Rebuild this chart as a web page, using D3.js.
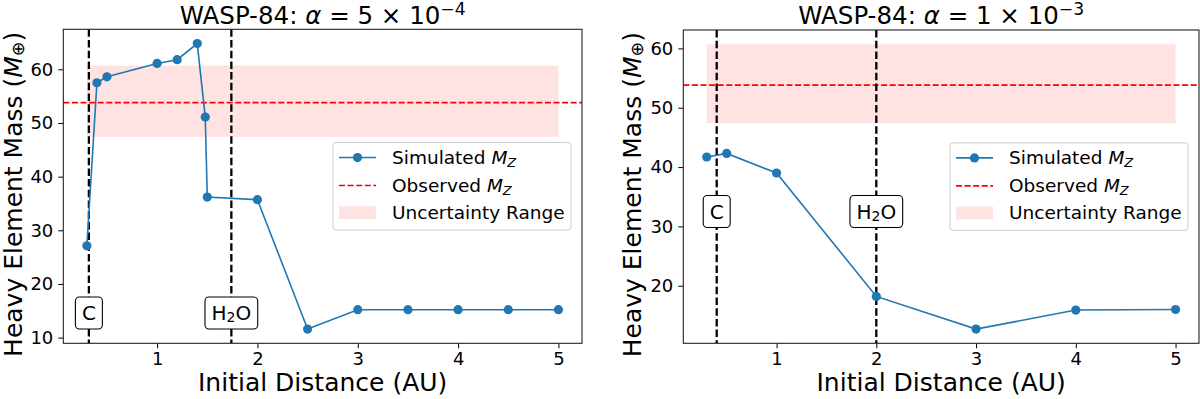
<!DOCTYPE html>
<html>
<head>
<meta charset="utf-8">
<script src="https://cdn.jsdelivr.net/npm/d3@7"></script>
<style>
  body { margin: 0; background: #fff; }
  svg { display: block; }
  text { font-family: "DejaVu Sans", sans-serif; fill: #000; }
</style>
</head>
<body>
<svg id="chart"></svg>
<script>
// data
var xTicks = [1, 2, 3, 4, 5];
var yTicksLeft = [10, 20, 30, 40, 50, 60];
var yTicksRight = [20, 30, 40, 50, 60];

var distLeft = [0.3, 0.4, 0.5, 1.0, 1.2, 1.4, 1.48, 1.5, 2.0, 2.5, 3.0, 3.5, 4.0, 4.5, 5.0];
var massLeft = [27.1, 57.5, 58.6, 61.1, 61.8, 64.8, 51.1, 36.2, 35.7, 11.6, 15.2, 15.2, 15.2, 15.2, 15.2];

var distRight = [0.3, 0.5, 1.0, 2.0, 3.0, 4.0, 5.0];
var massRight = [41.7, 42.3, 39.0, 18.2, 12.7, 15.9, 16.0];

var observedMz = 53.8;
var uncertainty = [47.4, 60.7];
var uncertaintyX = [0.3, 5.0];

var snowLeft = [0.32, 1.74];   // C, H2O
var snowRight = [0.40, 2.0];
var snowNames = ["C", "H2O"];

var W = 1200, H = 399;
var blue = "#1f77b4";

var svg = d3.select("#chart")
            .attr("width", W)
            .attr("height", H);

// text with italic / sub / superscript parts
function rich(sel, parts, fs, subShift, supShift) {
  var cur = 0;
  subShift = subShift || 0.15;
  supShift = supShift || 0.38;
  parts.forEach(function(p) {
    var ts = sel.append("tspan").text(p.t);
    var target = p.sub ? fs * subShift : (p.sup ? -fs * supShift : 0);
    if (p.it) ts.attr("font-style", "italic");
    if (p.sub || p.sup) ts.attr("font-size", fs * 0.7);
    if (target !== cur) ts.attr("dy", target - cur);
    cur = target;
  });
}

function pad(lo, hi) {
  var m = (hi - lo) * 0.05;
  return [lo - m, hi + m];
}

function panel(cfg) {
  var g = svg.append("g");
  var ymin = Math.min(d3.min(cfg.mass), uncertainty[0]);
  var ymax = Math.max(d3.max(cfg.mass), uncertainty[1]);

  var x = d3.scaleLinear()
            .domain(pad(d3.min(cfg.dist), d3.max(cfg.dist)))
            .range([cfg.left, cfg.right]);
  var y = d3.scaleLinear()
            .domain(pad(ymin, ymax))
            .range([cfg.bottom, cfg.top]);

  var clipId = "clip" + cfg.id;
  g.append("clipPath").attr("id", clipId)
    .append("rect")
    .attr("x", cfg.left).attr("y", cfg.top)
    .attr("width", cfg.right - cfg.left)
    .attr("height", cfg.bottom - cfg.top);

  var plot = g.append("g").attr("clip-path", "url(#" + clipId + ")");

  // uncertainty band
  plot.append("rect")
      .attr("x", x(uncertaintyX[0]))
      .attr("width", x(uncertaintyX[1]) - x(uncertaintyX[0]))
      .attr("y", y(uncertainty[1]))
      .attr("height", y(uncertainty[0]) - y(uncertainty[1]))
      .attr("fill", "red")
      .attr("fill-opacity", 0.11);

  // observed line
  plot.append("line")
      .attr("x1", cfg.left).attr("x2", cfg.right)
      .attr("y1", y(observedMz)).attr("y2", y(observedMz))
      .attr("stroke", "red")
      .attr("stroke-width", 1.7)
      .attr("stroke-dasharray", "6,2.6");

  // snow lines
  plot.selectAll("line.snow")
      .data(cfg.snow)
      .enter()
      .append("line")
      .attr("class", "snow")
      .attr("x1", function(d) { return x(d); })
      .attr("x2", function(d) { return x(d); })
      .attr("y1", cfg.top).attr("y2", cfg.bottom)
      .attr("stroke", "#000")
      .attr("stroke-width", 2.3)
      .attr("stroke-dasharray", "7.5,3.2");

  // simulated series
  var pts = cfg.dist.map(function(d, i) { return [d, cfg.mass[i]]; });
  plot.append("path")
      .datum(pts)
      .attr("fill", "none")
      .attr("stroke", blue)
      .attr("stroke-width", 1.6)
      .attr("d", d3.line()
                   .x(function(d) { return x(d[0]); })
                   .y(function(d) { return y(d[1]); }));

  plot.selectAll("circle")
      .data(pts)
      .enter()
      .append("circle")
      .attr("cx", function(d) { return x(d[0]); })
      .attr("cy", function(d) { return y(d[1]); })
      .attr("r", 4.6)
      .attr("fill", blue);

  // snow line labels
  cfg.snow.forEach(function(s, i) {
    var lg = g.append("g");
    var t = lg.append("text")
              .attr("x", x(s))
              .attr("y", y(cfg.labelY))
              .attr("text-anchor", "middle")
              .attr("dominant-baseline", "central")
              .attr("font-size", 20);
    if (snowNames[i] === "H2O") {
      rich(t, [{t: "H"}, {t: "2", sub: true}, {t: "O"}], 20, 0.2);
    } else {
      t.text(snowNames[i]);
    }
    var bb = t.node().getBBox();
    lg.insert("rect", "text")
      .attr("x", bb.x - 6.5)
      .attr("width", bb.width + 13)
      .attr("y", y(cfg.labelY) - 16)
      .attr("height", 32)
      .attr("rx", 4)
      .attr("fill", "#fff")
      .attr("stroke", "#000")
      .attr("stroke-width", 1.1);
  });

  // axes
  var xAxis = g.append("g")
               .attr("transform", "translate(0," + cfg.bottom + ")")
               .call(d3.axisBottom(x).tickValues(xTicks).tickFormat(d3.format("d"))
                       .tickSize(5).tickPadding(4));
  var yAxis = g.append("g")
               .attr("transform", "translate(" + cfg.left + ",0)")
               .call(d3.axisLeft(y).tickValues(cfg.yTicks).tickFormat(d3.format("d"))
                       .tickSize(5).tickPadding(5));
  [xAxis, yAxis].forEach(function(a) {
    a.select(".domain").remove();
    a.selectAll("text").attr("font-size", 18).attr("font-family", "DejaVu Sans").attr("fill", "#000");
    a.selectAll("line").attr("stroke", "#000").attr("stroke-width", 1);
  });

  g.append("rect")
   .attr("x", cfg.left).attr("y", cfg.top)
   .attr("width", cfg.right - cfg.left)
   .attr("height", cfg.bottom - cfg.top)
   .attr("fill", "none")
   .attr("stroke", "#222")
   .attr("stroke-width", 1.1);

  // titles and labels
  var title = g.append("text")
               .attr("x", (cfg.left + cfg.right) / 2)
               .attr("y", 23.5)
               .attr("text-anchor", "middle")
               .attr("font-size", 24.5);
  rich(title, [{t: "WASP-84: "}, {t: "α", it: true}, {t: " = " + cfg.alphaMant + " × 10"},
               {t: cfg.alphaExp, sup: true}], 24.5, 0.15, 0.33);

  g.append("text")
   .attr("x", (cfg.left + cfg.right) / 2)
   .attr("y", 391)
   .attr("text-anchor", "middle")
   .attr("font-size", 25)
   .text("Initial Distance (AU)");

  var yl = g.append("text")
            .attr("transform", "translate(" + cfg.ylabelX + "," + ((cfg.top + cfg.bottom) / 2 + 8) + ") rotate(-90)")
            .attr("text-anchor", "middle")
            .attr("font-size", 25);
  rich(yl, [{t: "Heavy Element Mass ("}, {t: "M", it: true}, {t: "⊕", sub: true}, {t: ")"}], 25, 0.06);

  // legend
  var lw = 238, lh = 87.5;
  var lx = cfg.right - 11 - lw;
  var ly = (cfg.top + cfg.bottom) / 2 - lh / 2;
  var leg = g.append("g").attr("transform", "translate(" + lx + "," + ly + ")");
  leg.append("rect")
     .attr("width", lw).attr("height", lh)
     .attr("rx", 3)
     .attr("fill", "#fff").attr("fill-opacity", 0.8)
     .attr("stroke", "#ccc");
  var rows = [15, 43, 70];
  leg.append("line").attr("x1", 6).attr("x2", 43).attr("y1", rows[0]).attr("y2", rows[0])
     .attr("stroke", blue).attr("stroke-width", 1.6);
  leg.append("circle").attr("cx", 24.5).attr("cy", rows[0]).attr("r", 4.6).attr("fill", blue);
  leg.append("line").attr("x1", 6).attr("x2", 43).attr("y1", rows[1]).attr("y2", rows[1])
     .attr("stroke", "red").attr("stroke-width", 1.6).attr("stroke-dasharray", "6,2.6");
  leg.append("rect").attr("x", 6).attr("width", 37).attr("y", rows[2] - 6.5).attr("height", 13)
     .attr("fill", "red").attr("fill-opacity", 0.11);
  var legTexts = [
    [{t: "Simulated "}, {t: "M", it: true}, {t: "Z", it: true, sub: true}],
    [{t: "Observed "}, {t: "M", it: true}, {t: "Z", it: true, sub: true}],
    [{t: "Uncertainty Range"}]
  ];
  legTexts.forEach(function(parts, i) {
    var t = leg.append("text")
               .attr("x", 59)
               .attr("y", rows[i] + 6.5)
               .attr("font-size", 18.5);
    rich(t, parts, 18.5);
  });
}

panel({
  id: "L", dist: distLeft, mass: massLeft, snow: snowLeft, yTicks: yTicksLeft,
  left: 63.3, right: 582, top: 29.3, bottom: 343.3, ylabelX: 22,
  labelY: 14.6, alphaMant: "5", alphaExp: "−4"
});
panel({
  id: "R", dist: distRight, mass: massRight, snow: snowRight, yTicks: yTicksRight,
  left: 683.3, right: 1199, top: 30, bottom: 343.3, ylabelX: 641,
  labelY: 32.5, alphaMant: "1", alphaExp: "−3"
});
</script>
</body>
</html>
